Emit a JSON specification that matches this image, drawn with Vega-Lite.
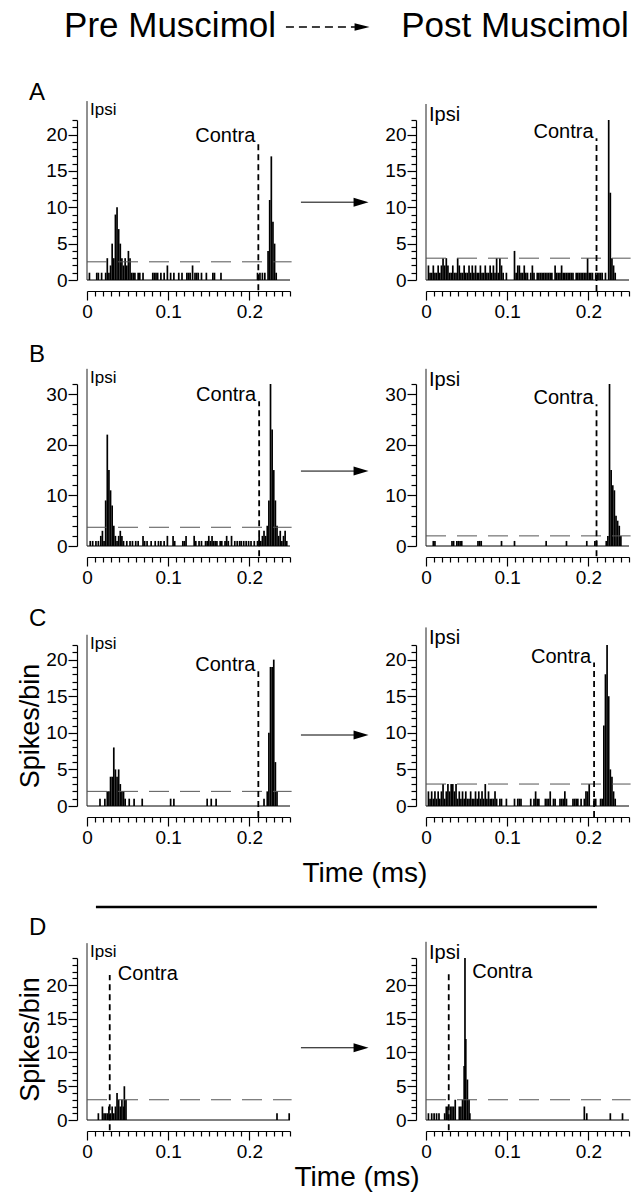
{
 "$schema": "https://vega.github.io/schema/vega-lite/v6.json",
 "background": "white",
 "padding": {"left": 16, "top": 0, "right": 0, "bottom": 0},
 "bounds": "flush",
 "columns": 2,
 "spacing": {"row": 0, "column": 136},
 "config": {
  "view": {"stroke": null},
  "axis": {"grid": false, "labelFont": "Liberation Sans", "labelFontSize": 19, "labelColor": "black", "domainColor": "black", "tickColor": "black", "domainWidth": 1.2, "tickWidth": 1.2, "labelOverlap": false, "labelFlush": false, "titleFont": "Liberation Sans", "titleFontWeight": "normal", "titleColor": "black", "titleFontSize": 27},
  "text": {"font": "Liberation Sans", "color": "black"},
  "title": {"font": "Liberation Sans", "fontSize": 24, "fontWeight": "normal", "color": "black", "anchor": "start", "frame": "group"}
 },
 "datasets": {
  "bins": [
   {"p":"A1","t":0.003,"n":1},{"p":"A1","t":0.012,"n":1},{"p":"A1","t":0.014,"n":1},{"p":"A1","t":0.018,"n":1},{"p":"A1","t":0.023,"n":1},{"p":"A1","t":0.025,"n":3},{"p":"A1","t":0.027,"n":1},{"p":"A1","t":0.029,"n":2},{"p":"A1","t":0.031,"n":5},{"p":"A1","t":0.033,"n":3},{"p":"A1","t":0.035,"n":9},{"p":"A1","t":0.037,"n":10},{"p":"A1","t":0.039,"n":7},{"p":"A1","t":0.041,"n":5},{"p":"A1","t":0.043,"n":3},{"p":"A1","t":0.045,"n":2},{"p":"A1","t":0.047,"n":3},{"p":"A1","t":0.049,"n":2},{"p":"A1","t":0.051,"n":4},{"p":"A1","t":0.053,"n":3},{"p":"A1","t":0.055,"n":1},{"p":"A1","t":0.057,"n":1},{"p":"A1","t":0.059,"n":1},{"p":"A1","t":0.063,"n":1},{"p":"A1","t":0.065,"n":1},{"p":"A1","t":0.069,"n":1},{"p":"A1","t":0.081,"n":1},{"p":"A1","t":0.083,"n":1},{"p":"A1","t":0.085,"n":1},{"p":"A1","t":0.087,"n":1},{"p":"A1","t":0.091,"n":1},{"p":"A1","t":0.095,"n":1},{"p":"A1","t":0.099,"n":2},{"p":"A1","t":0.103,"n":1},{"p":"A1","t":0.107,"n":1},{"p":"A1","t":0.113,"n":1},{"p":"A1","t":0.117,"n":1},{"p":"A1","t":0.123,"n":1},{"p":"A1","t":0.125,"n":1},{"p":"A1","t":0.127,"n":1},{"p":"A1","t":0.13,"n":2},{"p":"A1","t":0.133,"n":1},{"p":"A1","t":0.135,"n":1},{"p":"A1","t":0.137,"n":1},{"p":"A1","t":0.141,"n":1},{"p":"A1","t":0.147,"n":1},{"p":"A1","t":0.155,"n":1},{"p":"A1","t":0.157,"n":1},{"p":"A1","t":0.165,"n":1},{"p":"A1","t":0.21,"n":1},{"p":"A1","t":0.213,"n":1},{"p":"A1","t":0.216,"n":1},{"p":"A1","t":0.219,"n":1},{"p":"A1","t":0.223,"n":4},{"p":"A1","t":0.225,"n":11},{"p":"A1","t":0.227,"n":17},{"p":"A1","t":0.229,"n":8},{"p":"A1","t":0.231,"n":5},{"p":"A1","t":0.233,"n":1},
   {"p":"A2","t":0.003,"n":2},{"p":"A2","t":0.005,"n":1},{"p":"A2","t":0.007,"n":1},{"p":"A2","t":0.009,"n":2},{"p":"A2","t":0.011,"n":1},{"p":"A2","t":0.013,"n":1},{"p":"A2","t":0.015,"n":2},{"p":"A2","t":0.017,"n":1},{"p":"A2","t":0.019,"n":2},{"p":"A2","t":0.021,"n":3},{"p":"A2","t":0.023,"n":2},{"p":"A2","t":0.025,"n":3},{"p":"A2","t":0.027,"n":2},{"p":"A2","t":0.029,"n":1},{"p":"A2","t":0.031,"n":1},{"p":"A2","t":0.033,"n":2},{"p":"A2","t":0.035,"n":1},{"p":"A2","t":0.037,"n":1},{"p":"A2","t":0.039,"n":3},{"p":"A2","t":0.041,"n":2},{"p":"A2","t":0.043,"n":1},{"p":"A2","t":0.045,"n":1},{"p":"A2","t":0.047,"n":2},{"p":"A2","t":0.049,"n":1},{"p":"A2","t":0.051,"n":1},{"p":"A2","t":0.053,"n":2},{"p":"A2","t":0.055,"n":1},{"p":"A2","t":0.057,"n":2},{"p":"A2","t":0.059,"n":1},{"p":"A2","t":0.061,"n":2},{"p":"A2","t":0.063,"n":1},{"p":"A2","t":0.065,"n":1},{"p":"A2","t":0.067,"n":2},{"p":"A2","t":0.069,"n":1},{"p":"A2","t":0.071,"n":1},{"p":"A2","t":0.073,"n":2},{"p":"A2","t":0.075,"n":1},{"p":"A2","t":0.077,"n":1},{"p":"A2","t":0.079,"n":2},{"p":"A2","t":0.081,"n":1},{"p":"A2","t":0.083,"n":2},{"p":"A2","t":0.085,"n":1},{"p":"A2","t":0.087,"n":3},{"p":"A2","t":0.089,"n":1},{"p":"A2","t":0.091,"n":3},{"p":"A2","t":0.093,"n":2},{"p":"A2","t":0.095,"n":1},{"p":"A2","t":0.099,"n":1},{"p":"A2","t":0.109,"n":4},{"p":"A2","t":0.111,"n":1},{"p":"A2","t":0.113,"n":2},{"p":"A2","t":0.115,"n":2},{"p":"A2","t":0.117,"n":1},{"p":"A2","t":0.119,"n":1},{"p":"A2","t":0.121,"n":2},{"p":"A2","t":0.123,"n":1},{"p":"A2","t":0.125,"n":1},{"p":"A2","t":0.129,"n":1},{"p":"A2","t":0.131,"n":2},{"p":"A2","t":0.133,"n":1},{"p":"A2","t":0.137,"n":1},{"p":"A2","t":0.139,"n":1},{"p":"A2","t":0.141,"n":1},{"p":"A2","t":0.143,"n":1},{"p":"A2","t":0.145,"n":1},{"p":"A2","t":0.147,"n":1},{"p":"A2","t":0.149,"n":1},{"p":"A2","t":0.151,"n":1},{"p":"A2","t":0.153,"n":1},{"p":"A2","t":0.155,"n":1},{"p":"A2","t":0.159,"n":2},{"p":"A2","t":0.161,"n":1},{"p":"A2","t":0.163,"n":1},{"p":"A2","t":0.165,"n":1},{"p":"A2","t":0.167,"n":2},{"p":"A2","t":0.169,"n":1},{"p":"A2","t":0.171,"n":1},{"p":"A2","t":0.173,"n":1},{"p":"A2","t":0.175,"n":1},{"p":"A2","t":0.177,"n":1},{"p":"A2","t":0.179,"n":1},{"p":"A2","t":0.181,"n":1},{"p":"A2","t":0.185,"n":1},{"p":"A2","t":0.187,"n":1},{"p":"A2","t":0.189,"n":1},{"p":"A2","t":0.191,"n":1},{"p":"A2","t":0.193,"n":1},{"p":"A2","t":0.195,"n":1},{"p":"A2","t":0.197,"n":1},{"p":"A2","t":0.199,"n":3},{"p":"A2","t":0.201,"n":1},{"p":"A2","t":0.203,"n":1},{"p":"A2","t":0.205,"n":1},{"p":"A2","t":0.209,"n":1},{"p":"A2","t":0.211,"n":1},{"p":"A2","t":0.213,"n":1},{"p":"A2","t":0.215,"n":1},{"p":"A2","t":0.217,"n":1},{"p":"A2","t":0.221,"n":1},{"p":"A2","t":0.225,"n":22},{"p":"A2","t":0.227,"n":12},{"p":"A2","t":0.229,"n":3},{"p":"A2","t":0.231,"n":2},{"p":"A2","t":0.233,"n":1},
   {"p":"B1","t":0.004,"n":1},{"p":"B1","t":0.007,"n":1},{"p":"B1","t":0.011,"n":1},{"p":"B1","t":0.014,"n":1},{"p":"B1","t":0.017,"n":2},{"p":"B1","t":0.019,"n":3},{"p":"B1","t":0.021,"n":1},{"p":"B1","t":0.023,"n":9},{"p":"B1","t":0.025,"n":22},{"p":"B1","t":0.027,"n":15},{"p":"B1","t":0.029,"n":11},{"p":"B1","t":0.031,"n":8},{"p":"B1","t":0.033,"n":4},{"p":"B1","t":0.035,"n":2},{"p":"B1","t":0.037,"n":1},{"p":"B1","t":0.039,"n":2},{"p":"B1","t":0.041,"n":3},{"p":"B1","t":0.043,"n":2},{"p":"B1","t":0.045,"n":1},{"p":"B1","t":0.049,"n":1},{"p":"B1","t":0.053,"n":1},{"p":"B1","t":0.056,"n":1},{"p":"B1","t":0.06,"n":1},{"p":"B1","t":0.063,"n":1},{"p":"B1","t":0.069,"n":2},{"p":"B1","t":0.071,"n":1},{"p":"B1","t":0.074,"n":1},{"p":"B1","t":0.079,"n":1},{"p":"B1","t":0.084,"n":1},{"p":"B1","t":0.088,"n":1},{"p":"B1","t":0.091,"n":1},{"p":"B1","t":0.095,"n":1},{"p":"B1","t":0.099,"n":2},{"p":"B1","t":0.106,"n":2},{"p":"B1","t":0.108,"n":1},{"p":"B1","t":0.118,"n":1},{"p":"B1","t":0.12,"n":1},{"p":"B1","t":0.122,"n":2},{"p":"B1","t":0.132,"n":2},{"p":"B1","t":0.134,"n":1},{"p":"B1","t":0.138,"n":1},{"p":"B1","t":0.141,"n":1},{"p":"B1","t":0.146,"n":1},{"p":"B1","t":0.148,"n":1},{"p":"B1","t":0.15,"n":2},{"p":"B1","t":0.152,"n":1},{"p":"B1","t":0.154,"n":2},{"p":"B1","t":0.156,"n":1},{"p":"B1","t":0.158,"n":1},{"p":"B1","t":0.16,"n":1},{"p":"B1","t":0.164,"n":1},{"p":"B1","t":0.166,"n":1},{"p":"B1","t":0.17,"n":1},{"p":"B1","t":0.172,"n":2},{"p":"B1","t":0.174,"n":1},{"p":"B1","t":0.178,"n":2},{"p":"B1","t":0.182,"n":1},{"p":"B1","t":0.185,"n":1},{"p":"B1","t":0.188,"n":1},{"p":"B1","t":0.19,"n":1},{"p":"B1","t":0.193,"n":1},{"p":"B1","t":0.196,"n":1},{"p":"B1","t":0.199,"n":1},{"p":"B1","t":0.202,"n":1},{"p":"B1","t":0.206,"n":1},{"p":"B1","t":0.21,"n":1},{"p":"B1","t":0.212,"n":2},{"p":"B1","t":0.214,"n":1},{"p":"B1","t":0.216,"n":2},{"p":"B1","t":0.218,"n":3},{"p":"B1","t":0.22,"n":2},{"p":"B1","t":0.222,"n":4},{"p":"B1","t":0.224,"n":9},{"p":"B1","t":0.226,"n":32},{"p":"B1","t":0.228,"n":23},{"p":"B1","t":0.23,"n":15},{"p":"B1","t":0.232,"n":9},{"p":"B1","t":0.234,"n":4},{"p":"B1","t":0.236,"n":2},{"p":"B1","t":0.238,"n":3},{"p":"B1","t":0.24,"n":1},{"p":"B1","t":0.242,"n":2},{"p":"B1","t":0.244,"n":3},{"p":"B1","t":0.246,"n":1},
   {"p":"B2","t":0.009,"n":1},{"p":"B2","t":0.011,"n":1},{"p":"B2","t":0.032,"n":1},{"p":"B2","t":0.034,"n":1},{"p":"B2","t":0.038,"n":1},{"p":"B2","t":0.04,"n":1},{"p":"B2","t":0.042,"n":1},{"p":"B2","t":0.044,"n":1},{"p":"B2","t":0.064,"n":1},{"p":"B2","t":0.066,"n":1},{"p":"B2","t":0.068,"n":1},{"p":"B2","t":0.093,"n":1},{"p":"B2","t":0.109,"n":1},{"p":"B2","t":0.148,"n":1},{"p":"B2","t":0.173,"n":1},{"p":"B2","t":0.198,"n":1},{"p":"B2","t":0.208,"n":1},{"p":"B2","t":0.21,"n":1},{"p":"B2","t":0.222,"n":1},{"p":"B2","t":0.224,"n":2},{"p":"B2","t":0.226,"n":32},{"p":"B2","t":0.228,"n":15},{"p":"B2","t":0.23,"n":12},{"p":"B2","t":0.232,"n":11},{"p":"B2","t":0.234,"n":6},{"p":"B2","t":0.236,"n":5},{"p":"B2","t":0.238,"n":4},{"p":"B2","t":0.24,"n":2},
   {"p":"C1","t":0.016,"n":1},{"p":"C1","t":0.022,"n":1},{"p":"C1","t":0.025,"n":2},{"p":"C1","t":0.027,"n":2},{"p":"C1","t":0.029,"n":4},{"p":"C1","t":0.031,"n":4},{"p":"C1","t":0.033,"n":8},{"p":"C1","t":0.035,"n":5},{"p":"C1","t":0.037,"n":4},{"p":"C1","t":0.039,"n":5},{"p":"C1","t":0.041,"n":3},{"p":"C1","t":0.043,"n":2},{"p":"C1","t":0.045,"n":2},{"p":"C1","t":0.047,"n":1},{"p":"C1","t":0.052,"n":1},{"p":"C1","t":0.058,"n":1},{"p":"C1","t":0.068,"n":1},{"p":"C1","t":0.103,"n":1},{"p":"C1","t":0.107,"n":1},{"p":"C1","t":0.148,"n":1},{"p":"C1","t":0.153,"n":1},{"p":"C1","t":0.159,"n":1},{"p":"C1","t":0.218,"n":1},{"p":"C1","t":0.222,"n":2},{"p":"C1","t":0.224,"n":10},{"p":"C1","t":0.226,"n":19},{"p":"C1","t":0.228,"n":19},{"p":"C1","t":0.23,"n":20},{"p":"C1","t":0.232,"n":6},{"p":"C1","t":0.234,"n":2},
   {"p":"C2","t":0.003,"n":2},{"p":"C2","t":0.005,"n":1},{"p":"C2","t":0.007,"n":2},{"p":"C2","t":0.009,"n":1},{"p":"C2","t":0.011,"n":2},{"p":"C2","t":0.013,"n":1},{"p":"C2","t":0.015,"n":2},{"p":"C2","t":0.017,"n":1},{"p":"C2","t":0.019,"n":2},{"p":"C2","t":0.021,"n":3},{"p":"C2","t":0.023,"n":1},{"p":"C2","t":0.025,"n":2},{"p":"C2","t":0.027,"n":3},{"p":"C2","t":0.029,"n":2},{"p":"C2","t":0.031,"n":3},{"p":"C2","t":0.033,"n":3},{"p":"C2","t":0.035,"n":2},{"p":"C2","t":0.037,"n":3},{"p":"C2","t":0.039,"n":1},{"p":"C2","t":0.041,"n":2},{"p":"C2","t":0.043,"n":1},{"p":"C2","t":0.045,"n":2},{"p":"C2","t":0.047,"n":1},{"p":"C2","t":0.049,"n":2},{"p":"C2","t":0.051,"n":1},{"p":"C2","t":0.053,"n":1},{"p":"C2","t":0.055,"n":2},{"p":"C2","t":0.057,"n":1},{"p":"C2","t":0.059,"n":1},{"p":"C2","t":0.061,"n":2},{"p":"C2","t":0.063,"n":1},{"p":"C2","t":0.065,"n":2},{"p":"C2","t":0.067,"n":1},{"p":"C2","t":0.069,"n":2},{"p":"C2","t":0.071,"n":1},{"p":"C2","t":0.073,"n":3},{"p":"C2","t":0.075,"n":1},{"p":"C2","t":0.077,"n":2},{"p":"C2","t":0.079,"n":1},{"p":"C2","t":0.081,"n":1},{"p":"C2","t":0.083,"n":1},{"p":"C2","t":0.085,"n":2},{"p":"C2","t":0.087,"n":1},{"p":"C2","t":0.091,"n":1},{"p":"C2","t":0.093,"n":1},{"p":"C2","t":0.099,"n":1},{"p":"C2","t":0.109,"n":1},{"p":"C2","t":0.113,"n":1},{"p":"C2","t":0.115,"n":1},{"p":"C2","t":0.117,"n":1},{"p":"C2","t":0.129,"n":1},{"p":"C2","t":0.133,"n":1},{"p":"C2","t":0.135,"n":2},{"p":"C2","t":0.137,"n":1},{"p":"C2","t":0.139,"n":1},{"p":"C2","t":0.147,"n":1},{"p":"C2","t":0.149,"n":1},{"p":"C2","t":0.151,"n":1},{"p":"C2","t":0.153,"n":2},{"p":"C2","t":0.157,"n":1},{"p":"C2","t":0.159,"n":1},{"p":"C2","t":0.165,"n":1},{"p":"C2","t":0.167,"n":1},{"p":"C2","t":0.169,"n":1},{"p":"C2","t":0.171,"n":2},{"p":"C2","t":0.173,"n":1},{"p":"C2","t":0.181,"n":1},{"p":"C2","t":0.183,"n":1},{"p":"C2","t":0.185,"n":1},{"p":"C2","t":0.187,"n":1},{"p":"C2","t":0.191,"n":1},{"p":"C2","t":0.195,"n":1},{"p":"C2","t":0.197,"n":2},{"p":"C2","t":0.199,"n":2},{"p":"C2","t":0.201,"n":3},{"p":"C2","t":0.207,"n":1},{"p":"C2","t":0.209,"n":1},{"p":"C2","t":0.215,"n":1},{"p":"C2","t":0.217,"n":1},{"p":"C2","t":0.219,"n":11},{"p":"C2","t":0.221,"n":18},{"p":"C2","t":0.223,"n":22},{"p":"C2","t":0.225,"n":15},{"p":"C2","t":0.227,"n":5},{"p":"C2","t":0.229,"n":4},{"p":"C2","t":0.231,"n":2},{"p":"C2","t":0.233,"n":1},
   {"p":"D1","t":0.014,"n":1},{"p":"D1","t":0.019,"n":2},{"p":"D1","t":0.021,"n":1},{"p":"D1","t":0.023,"n":1},{"p":"D1","t":0.025,"n":1},{"p":"D1","t":0.027,"n":2},{"p":"D1","t":0.029,"n":1},{"p":"D1","t":0.031,"n":2},{"p":"D1","t":0.033,"n":1},{"p":"D1","t":0.035,"n":2},{"p":"D1","t":0.037,"n":4},{"p":"D1","t":0.039,"n":3},{"p":"D1","t":0.041,"n":2},{"p":"D1","t":0.043,"n":3},{"p":"D1","t":0.045,"n":2},{"p":"D1","t":0.046,"n":5},{"p":"D1","t":0.048,"n":3},{"p":"D1","t":0.234,"n":1},{"p":"D1","t":0.249,"n":1},
   {"p":"D2","t":0.003,"n":1},{"p":"D2","t":0.007,"n":1},{"p":"D2","t":0.01,"n":1},{"p":"D2","t":0.013,"n":1},{"p":"D2","t":0.016,"n":1},{"p":"D2","t":0.023,"n":1},{"p":"D2","t":0.025,"n":2},{"p":"D2","t":0.027,"n":2},{"p":"D2","t":0.03,"n":2},{"p":"D2","t":0.032,"n":2},{"p":"D2","t":0.034,"n":2},{"p":"D2","t":0.036,"n":3},{"p":"D2","t":0.041,"n":2},{"p":"D2","t":0.043,"n":2},{"p":"D2","t":0.045,"n":3},{"p":"D2","t":0.047,"n":8},{"p":"D2","t":0.048,"n":24},{"p":"D2","t":0.049,"n":12},{"p":"D2","t":0.051,"n":6},{"p":"D2","t":0.053,"n":3},{"p":"D2","t":0.054,"n":1},{"p":"D2","t":0.195,"n":2},{"p":"D2","t":0.198,"n":1},{"p":"D2","t":0.227,"n":1},{"p":"D2","t":0.242,"n":1}
  ],
  "annot": [
   {"p":"A1","x0":0,"xe":0.25,"xd":0.252,"y0":0,"ipsiTop":24.6,"ct":0.211,"ctop":19,"clo":-1.4,"thr":2.5},
   {"p":"A2","x0":0,"xe":0.25,"xd":0.252,"y0":0,"ipsiTop":24.2,"ct":0.21,"ctop":19.5,"clo":-1.5,"thr":3},
   {"p":"B1","x0":0,"xe":0.25,"xd":0.252,"y0":0,"ipsiTop":35,"ct":0.212,"ctop":28.6,"clo":-2,"thr":3.7},
   {"p":"B2","x0":0,"xe":0.25,"xd":0.252,"y0":0,"ipsiTop":35,"ct":0.21,"ctop":28,"clo":-2,"thr":2},
   {"p":"C1","x0":0,"xe":0.25,"xd":0.252,"y0":0,"ipsiTop":23.4,"ct":0.211,"ctop":18.4,"clo":-1.5,"thr":2},
   {"p":"C2","x0":0,"xe":0.25,"xd":0.252,"y0":0,"ipsiTop":24.4,"ct":0.207,"ctop":19.6,"clo":-1.5,"thr":3},
   {"p":"D1","x0":0,"xe":0.25,"xd":0.252,"y0":0,"ipsiTop":26.2,"ct":0.028,"ctop":21.5,"clo":-1.5,"thr":3,"ctx":0.038,"cty":21.7},
   {"p":"D2","x0":0,"xe":0.25,"xd":0.252,"y0":0,"ipsiTop":26.4,"ct":0.028,"ctop":22,"clo":-1.5,"thr":3,"ctx":0.057,"cty":21.9}
  ],
  "arrows": [
   {"p":"A2","a1":-0.154,"a2":-0.085,"ah":-0.08,"ay":10.7},
   {"p":"B2","a1":-0.154,"a2":-0.085,"ah":-0.08,"ay":14.8},
   {"p":"C2","a1":-0.154,"a2":-0.085,"ah":-0.08,"ay":9.7},
   {"p":"D2","a1":-0.154,"a2":-0.085,"ah":-0.08,"ay":10.7}
  ],
  "hl": [{"label":"Pre Muscimol","fx":0.409,"fy":0.783}],
  "hr": [{"label":"Post Muscimol","fx":0.438,"fy":0.783}],
  "hdash": [{"xa":0.98,"xb":1.32,"hx":1.355,"fy":0.775}],
  "sep": [{"xa":0.044,"xb":2.512,"fy":0.336}],
  "midtext": [{"label":"Time (ms)","fx":1.369,"fy":0.553}],
  "foot": [{"label":"Time (ms)","fx":1.33,"fy":0.275}],
  "none": []
 },
 "concat": [
  {"width": 203, "height": 120, "layer": [
    {"data": {"name": "hl"}, "mark": {"type": "text", "fontSize": 35, "baseline": "middle", "align": "center", "clip": false},
     "encoding": {"x": {"field": "fx", "type": "quantitative", "scale": {"domain": [0, 1], "nice": false}, "axis": null}, "y": {"field": "fy", "type": "quantitative", "scale": {"domain": [0, 1], "nice": false}, "axis": null}, "text": {"field": "label", "type": "nominal"}}},
    {"data": {"name": "hdash"}, "mark": {"type": "rule", "strokeDash": [8, 5], "strokeWidth": 1.5, "color": "black", "clip": false},
     "encoding": {"x": {"field": "xa", "type": "quantitative"}, "x2": {"field": "xb"}, "y": {"field": "fy", "type": "quantitative"}}},
    {"data": {"name": "hdash"}, "mark": {"type": "point", "shape": "M-1,-0.5L1,0L-1,0.5Z", "filled": true, "size": 225, "color": "black", "opacity": 1, "clip": false},
     "encoding": {"x": {"field": "hx", "type": "quantitative"}, "y": {"field": "fy", "type": "quantitative"}}}
  ]},
  {"width": 203, "height": 120, "data": {"name": "hr"}, "mark": {"type": "text", "fontSize": 35, "baseline": "middle", "align": "center", "clip": false},
   "encoding": {"x": {"field": "fx", "type": "quantitative", "scale": {"domain": [0, 1], "nice": false}, "axis": null}, "y": {"field": "fy", "type": "quantitative", "scale": {"domain": [0, 1], "nice": false}, "axis": null}, "text": {"field": "label", "type": "nominal"}}},

  {"width": 203, "height": 160, "title": {"text": "A", "dx": -58, "offset": -4},
   "layer": [
    {"data": {"name": "bins"}, "transform": [{"filter": "datum.p === 'A1'"}], "mark": {"type": "bar", "width": 1.7, "color": "black"},
     "encoding": {"x": {"field": "t", "type": "quantitative", "scale": {"domain": [0, 0.25], "nice": false, "zero": false, "padding": 0}, "axis": {"title": null, "offset": 11, "tickCount": 100, "labelOverlap": false, "labelFlush": false, "values": [0,0.01,0.02,0.03,0.04,0.05,0.06,0.07,0.08,0.09,0.1,0.11,0.12,0.13,0.14,0.15,0.16,0.17,0.18,0.19,0.2,0.21,0.22,0.23,0.24,0.25], "labelExpr": "abs(datum.value*10 - round(datum.value*10)) < 0.001 ? format(datum.value, '~g') : ''", "tickSize": {"condition": {"test": "abs(datum.value*10 - round(datum.value*10)) < 0.001", "value": 9}, "value": 5}, "labelPadding": 2}},
                  "y": {"field": "n", "type": "quantitative", "scale": {"domain": [0, 22], "nice": false}, "axis": {"title": null, "offset": 10, "tickCount": 100, "labelOverlap": false, "values": [0,1,2,3,4,5,6,7,8,9,10,11,12,13,14,15,16,17,18,19,20,21,22], "labelExpr": "datum.value % 5 === 0 ? format(datum.value, 'd') : ''", "tickSize": {"condition": {"test": "datum.value % 5 === 0", "value": 9}, "value": 5}, "labelPadding": 1}}}},
    {"data": {"name": "annot"}, "transform": [{"filter": "datum.p === 'A1'"}], "layer": [
     {"mark": {"type": "rule", "color": "black", "strokeWidth": 1}, "encoding": {"x": {"field": "x0", "type": "quantitative"}, "x2": {"field": "xe"}, "y": {"field": "y0", "type": "quantitative"}}},
     {"mark": {"type": "rule", "color": "#222", "strokeWidth": 1}, "encoding": {"x": {"field": "x0", "type": "quantitative"}, "y": {"field": "y0", "type": "quantitative"}, "y2": {"field": "ipsiTop"}}},
     {"mark": {"type": "rule", "color": "#555", "strokeWidth": 1, "strokeDash": [20, 11]}, "encoding": {"x": {"field": "x0", "type": "quantitative"}, "x2": {"field": "xd"}, "y": {"field": "thr", "type": "quantitative"}}},
     {"mark": {"type": "rule", "color": "black", "strokeWidth": 1.8, "strokeDash": [6, 4], "clip": false}, "encoding": {"x": {"field": "ct", "type": "quantitative"}, "y": {"field": "clo", "type": "quantitative"}, "y2": {"field": "ctop"}}},
     {"mark": {"type": "text", "text": "Ipsi", "align": "left", "baseline": "top", "dx": 3, "dy": 1, "fontSize": 17, "clip": false}, "encoding": {"x": {"field": "x0", "type": "quantitative"}, "y": {"field": "ipsiTop", "type": "quantitative"}}},
     {"mark": {"type": "text", "text": "Contra", "align": "right", "baseline": "alphabetic", "dx": -3, "fontSize": 20, "clip": false}, "encoding": {"x": {"field": "ct", "type": "quantitative"}, "y": {"field": "ctop", "type": "quantitative"}}}
    ]}
   ]},
  {"width": 203, "height": 160,
   "layer": [
    {"data": {"name": "bins"}, "transform": [{"filter": "datum.p === 'A2'"}], "mark": {"type": "bar", "width": 1.7, "color": "black"},
     "encoding": {"x": {"field": "t", "type": "quantitative", "scale": {"domain": [0, 0.25], "nice": false, "zero": false, "padding": 0}, "axis": {"title": null, "offset": 11, "tickCount": 100, "labelOverlap": false, "labelFlush": false, "values": [0,0.01,0.02,0.03,0.04,0.05,0.06,0.07,0.08,0.09,0.1,0.11,0.12,0.13,0.14,0.15,0.16,0.17,0.18,0.19,0.2,0.21,0.22,0.23,0.24,0.25], "labelExpr": "abs(datum.value*10 - round(datum.value*10)) < 0.001 ? format(datum.value, '~g') : ''", "tickSize": {"condition": {"test": "abs(datum.value*10 - round(datum.value*10)) < 0.001", "value": 9}, "value": 5}, "labelPadding": 2}},
                  "y": {"field": "n", "type": "quantitative", "scale": {"domain": [0, 22], "nice": false}, "axis": {"title": null, "offset": 10, "tickCount": 100, "labelOverlap": false, "values": [0,1,2,3,4,5,6,7,8,9,10,11,12,13,14,15,16,17,18,19,20,21,22], "labelExpr": "datum.value % 5 === 0 ? format(datum.value, 'd') : ''", "tickSize": {"condition": {"test": "datum.value % 5 === 0", "value": 9}, "value": 5}, "labelPadding": 1}}}},
    {"data": {"name": "annot"}, "transform": [{"filter": "datum.p === 'A2'"}], "layer": [
     {"mark": {"type": "rule", "color": "black", "strokeWidth": 1}, "encoding": {"x": {"field": "x0", "type": "quantitative"}, "x2": {"field": "xe"}, "y": {"field": "y0", "type": "quantitative"}}},
     {"mark": {"type": "rule", "color": "#222", "strokeWidth": 1}, "encoding": {"x": {"field": "x0", "type": "quantitative"}, "y": {"field": "y0", "type": "quantitative"}, "y2": {"field": "ipsiTop"}}},
     {"mark": {"type": "rule", "color": "#555", "strokeWidth": 1, "strokeDash": [20, 11]}, "encoding": {"x": {"field": "x0", "type": "quantitative"}, "x2": {"field": "xd"}, "y": {"field": "thr", "type": "quantitative"}}},
     {"mark": {"type": "rule", "color": "black", "strokeWidth": 1.8, "strokeDash": [6, 4], "clip": false}, "encoding": {"x": {"field": "ct", "type": "quantitative"}, "y": {"field": "clo", "type": "quantitative"}, "y2": {"field": "ctop"}}},
     {"mark": {"type": "text", "text": "Ipsi", "align": "left", "baseline": "top", "dx": 3, "dy": 1, "fontSize": 20, "clip": false}, "encoding": {"x": {"field": "x0", "type": "quantitative"}, "y": {"field": "ipsiTop", "type": "quantitative"}}},
     {"mark": {"type": "text", "text": "Contra", "align": "right", "baseline": "alphabetic", "dx": -3, "fontSize": 20, "clip": false}, "encoding": {"x": {"field": "ct", "type": "quantitative"}, "y": {"field": "ctop", "type": "quantitative"}}}
    ]},
    {"data": {"name": "arrows"}, "transform": [{"filter": "datum.p === 'A2'"}], "layer": [
     {"mark": {"type": "rule", "color": "black", "strokeWidth": 1, "clip": false}, "encoding": {"x": {"field": "a1", "type": "quantitative"}, "x2": {"field": "a2"}, "y": {"field": "ay", "type": "quantitative"}}},
     {"mark": {"type": "point", "shape": "M-1,-0.6L1,0L-1,0.6Z", "filled": true, "size": 225, "color": "black", "opacity": 1, "clip": false}, "encoding": {"x": {"field": "ah", "type": "quantitative"}, "y": {"field": "ay", "type": "quantitative"}}}
    ]}
   ]},

  {"width": 203, "height": 104, "data": {"name": "none"}, "mark": {"type": "point"}},
  {"width": 203, "height": 104, "data": {"name": "none"}, "mark": {"type": "point"}},

  {"width": 203, "height": 162, "title": {"text": "B", "dx": -58, "offset": 1},
   "layer": [
    {"data": {"name": "bins"}, "transform": [{"filter": "datum.p === 'B1'"}], "mark": {"type": "bar", "width": 1.7, "color": "black"},
     "encoding": {"x": {"field": "t", "type": "quantitative", "scale": {"domain": [0, 0.25], "nice": false, "zero": false, "padding": 0}, "axis": {"title": null, "offset": 11, "tickCount": 100, "labelOverlap": false, "labelFlush": false, "values": [0,0.01,0.02,0.03,0.04,0.05,0.06,0.07,0.08,0.09,0.1,0.11,0.12,0.13,0.14,0.15,0.16,0.17,0.18,0.19,0.2,0.21,0.22,0.23,0.24,0.25], "labelExpr": "abs(datum.value*10 - round(datum.value*10)) < 0.001 ? format(datum.value, '~g') : ''", "tickSize": {"condition": {"test": "abs(datum.value*10 - round(datum.value*10)) < 0.001", "value": 9}, "value": 5}, "labelPadding": 2}},
                  "y": {"field": "n", "type": "quantitative", "scale": {"domain": [0, 32], "nice": false}, "axis": {"title": null, "offset": 10, "tickCount": 100, "labelOverlap": false, "values": [0,2,4,6,8,10,12,14,16,18,20,22,24,26,28,30,32], "labelExpr": "datum.value % 10 === 0 ? format(datum.value, 'd') : ''", "tickSize": {"condition": {"test": "datum.value % 10 === 0", "value": 9}, "value": 5}, "labelPadding": 1}}}},
    {"data": {"name": "annot"}, "transform": [{"filter": "datum.p === 'B1'"}], "layer": [
     {"mark": {"type": "rule", "color": "black", "strokeWidth": 1}, "encoding": {"x": {"field": "x0", "type": "quantitative"}, "x2": {"field": "xe"}, "y": {"field": "y0", "type": "quantitative"}}},
     {"mark": {"type": "rule", "color": "#222", "strokeWidth": 1}, "encoding": {"x": {"field": "x0", "type": "quantitative"}, "y": {"field": "y0", "type": "quantitative"}, "y2": {"field": "ipsiTop"}}},
     {"mark": {"type": "rule", "color": "#555", "strokeWidth": 1, "strokeDash": [20, 11]}, "encoding": {"x": {"field": "x0", "type": "quantitative"}, "x2": {"field": "xd"}, "y": {"field": "thr", "type": "quantitative"}}},
     {"mark": {"type": "rule", "color": "black", "strokeWidth": 1.8, "strokeDash": [6, 4], "clip": false}, "encoding": {"x": {"field": "ct", "type": "quantitative"}, "y": {"field": "clo", "type": "quantitative"}, "y2": {"field": "ctop"}}},
     {"mark": {"type": "text", "text": "Ipsi", "align": "left", "baseline": "top", "dx": 3, "dy": 1, "fontSize": 17, "clip": false}, "encoding": {"x": {"field": "x0", "type": "quantitative"}, "y": {"field": "ipsiTop", "type": "quantitative"}}},
     {"mark": {"type": "text", "text": "Contra", "align": "right", "baseline": "alphabetic", "dx": -3, "fontSize": 20, "clip": false}, "encoding": {"x": {"field": "ct", "type": "quantitative"}, "y": {"field": "ctop", "type": "quantitative"}}}
    ]}
   ]},
  {"width": 203, "height": 162,
   "layer": [
    {"data": {"name": "bins"}, "transform": [{"filter": "datum.p === 'B2'"}], "mark": {"type": "bar", "width": 1.7, "color": "black"},
     "encoding": {"x": {"field": "t", "type": "quantitative", "scale": {"domain": [0, 0.25], "nice": false, "zero": false, "padding": 0}, "axis": {"title": null, "offset": 11, "tickCount": 100, "labelOverlap": false, "labelFlush": false, "values": [0,0.01,0.02,0.03,0.04,0.05,0.06,0.07,0.08,0.09,0.1,0.11,0.12,0.13,0.14,0.15,0.16,0.17,0.18,0.19,0.2,0.21,0.22,0.23,0.24,0.25], "labelExpr": "abs(datum.value*10 - round(datum.value*10)) < 0.001 ? format(datum.value, '~g') : ''", "tickSize": {"condition": {"test": "abs(datum.value*10 - round(datum.value*10)) < 0.001", "value": 9}, "value": 5}, "labelPadding": 2}},
                  "y": {"field": "n", "type": "quantitative", "scale": {"domain": [0, 32], "nice": false}, "axis": {"title": null, "offset": 10, "tickCount": 100, "labelOverlap": false, "values": [0,2,4,6,8,10,12,14,16,18,20,22,24,26,28,30,32], "labelExpr": "datum.value % 10 === 0 ? format(datum.value, 'd') : ''", "tickSize": {"condition": {"test": "datum.value % 10 === 0", "value": 9}, "value": 5}, "labelPadding": 1}}}},
    {"data": {"name": "annot"}, "transform": [{"filter": "datum.p === 'B2'"}], "layer": [
     {"mark": {"type": "rule", "color": "black", "strokeWidth": 1}, "encoding": {"x": {"field": "x0", "type": "quantitative"}, "x2": {"field": "xe"}, "y": {"field": "y0", "type": "quantitative"}}},
     {"mark": {"type": "rule", "color": "#222", "strokeWidth": 1}, "encoding": {"x": {"field": "x0", "type": "quantitative"}, "y": {"field": "y0", "type": "quantitative"}, "y2": {"field": "ipsiTop"}}},
     {"mark": {"type": "rule", "color": "#555", "strokeWidth": 1, "strokeDash": [20, 11]}, "encoding": {"x": {"field": "x0", "type": "quantitative"}, "x2": {"field": "xd"}, "y": {"field": "thr", "type": "quantitative"}}},
     {"mark": {"type": "rule", "color": "black", "strokeWidth": 1.8, "strokeDash": [6, 4], "clip": false}, "encoding": {"x": {"field": "ct", "type": "quantitative"}, "y": {"field": "clo", "type": "quantitative"}, "y2": {"field": "ctop"}}},
     {"mark": {"type": "text", "text": "Ipsi", "align": "left", "baseline": "top", "dx": 3, "dy": 1, "fontSize": 20, "clip": false}, "encoding": {"x": {"field": "x0", "type": "quantitative"}, "y": {"field": "ipsiTop", "type": "quantitative"}}},
     {"mark": {"type": "text", "text": "Contra", "align": "right", "baseline": "alphabetic", "dx": -3, "fontSize": 20, "clip": false}, "encoding": {"x": {"field": "ct", "type": "quantitative"}, "y": {"field": "ctop", "type": "quantitative"}}}
    ]},
    {"data": {"name": "arrows"}, "transform": [{"filter": "datum.p === 'B2'"}], "layer": [
     {"mark": {"type": "rule", "color": "black", "strokeWidth": 1, "clip": false}, "encoding": {"x": {"field": "a1", "type": "quantitative"}, "x2": {"field": "a2"}, "y": {"field": "ay", "type": "quantitative"}}},
     {"mark": {"type": "point", "shape": "M-1,-0.6L1,0L-1,0.6Z", "filled": true, "size": 225, "color": "black", "opacity": 1, "clip": false}, "encoding": {"x": {"field": "ah", "type": "quantitative"}, "y": {"field": "ay", "type": "quantitative"}}}
    ]}
   ]},

  {"width": 203, "height": 99, "data": {"name": "none"}, "mark": {"type": "point"}},
  {"width": 203, "height": 99, "data": {"name": "none"}, "mark": {"type": "point"}},

  {"width": 203, "height": 161, "title": {"text": "C", "dx": -58, "offset": 3},
   "layer": [
    {"data": {"name": "bins"}, "transform": [{"filter": "datum.p === 'C1'"}], "mark": {"type": "bar", "width": 1.7, "color": "black"},
     "encoding": {"x": {"field": "t", "type": "quantitative", "scale": {"domain": [0, 0.25], "nice": false, "zero": false, "padding": 0}, "axis": {"title": null, "offset": 11, "tickCount": 100, "labelOverlap": false, "labelFlush": false, "values": [0,0.01,0.02,0.03,0.04,0.05,0.06,0.07,0.08,0.09,0.1,0.11,0.12,0.13,0.14,0.15,0.16,0.17,0.18,0.19,0.2,0.21,0.22,0.23,0.24,0.25], "labelExpr": "abs(datum.value*10 - round(datum.value*10)) < 0.001 ? format(datum.value, '~g') : ''", "tickSize": {"condition": {"test": "abs(datum.value*10 - round(datum.value*10)) < 0.001", "value": 9}, "value": 5}, "labelPadding": 2}},
                  "y": {"field": "n", "type": "quantitative", "scale": {"domain": [0, 22], "nice": false}, "axis": {"title": "Spikes/bin", "titlePadding": 1, "offset": 10, "tickCount": 100, "labelOverlap": false, "values": [0,1,2,3,4,5,6,7,8,9,10,11,12,13,14,15,16,17,18,19,20,21,22], "labelExpr": "datum.value % 5 === 0 ? format(datum.value, 'd') : ''", "tickSize": {"condition": {"test": "datum.value % 5 === 0", "value": 9}, "value": 5}, "labelPadding": 1}}}},
    {"data": {"name": "annot"}, "transform": [{"filter": "datum.p === 'C1'"}], "layer": [
     {"mark": {"type": "rule", "color": "black", "strokeWidth": 1}, "encoding": {"x": {"field": "x0", "type": "quantitative"}, "x2": {"field": "xe"}, "y": {"field": "y0", "type": "quantitative"}}},
     {"mark": {"type": "rule", "color": "#222", "strokeWidth": 1}, "encoding": {"x": {"field": "x0", "type": "quantitative"}, "y": {"field": "y0", "type": "quantitative"}, "y2": {"field": "ipsiTop"}}},
     {"mark": {"type": "rule", "color": "#555", "strokeWidth": 1, "strokeDash": [20, 11]}, "encoding": {"x": {"field": "x0", "type": "quantitative"}, "x2": {"field": "xd"}, "y": {"field": "thr", "type": "quantitative"}}},
     {"mark": {"type": "rule", "color": "black", "strokeWidth": 1.8, "strokeDash": [6, 4], "clip": false}, "encoding": {"x": {"field": "ct", "type": "quantitative"}, "y": {"field": "clo", "type": "quantitative"}, "y2": {"field": "ctop"}}},
     {"mark": {"type": "text", "text": "Ipsi", "align": "left", "baseline": "top", "dx": 3, "dy": 1, "fontSize": 17, "clip": false}, "encoding": {"x": {"field": "x0", "type": "quantitative"}, "y": {"field": "ipsiTop", "type": "quantitative"}}},
     {"mark": {"type": "text", "text": "Contra", "align": "right", "baseline": "alphabetic", "dx": -3, "fontSize": 20, "clip": false}, "encoding": {"x": {"field": "ct", "type": "quantitative"}, "y": {"field": "ctop", "type": "quantitative"}}}
    ]}
   ]},
  {"width": 203, "height": 161,
   "layer": [
    {"data": {"name": "bins"}, "transform": [{"filter": "datum.p === 'C2'"}], "mark": {"type": "bar", "width": 1.7, "color": "black"},
     "encoding": {"x": {"field": "t", "type": "quantitative", "scale": {"domain": [0, 0.25], "nice": false, "zero": false, "padding": 0}, "axis": {"title": null, "offset": 11, "tickCount": 100, "labelOverlap": false, "labelFlush": false, "values": [0,0.01,0.02,0.03,0.04,0.05,0.06,0.07,0.08,0.09,0.1,0.11,0.12,0.13,0.14,0.15,0.16,0.17,0.18,0.19,0.2,0.21,0.22,0.23,0.24,0.25], "labelExpr": "abs(datum.value*10 - round(datum.value*10)) < 0.001 ? format(datum.value, '~g') : ''", "tickSize": {"condition": {"test": "abs(datum.value*10 - round(datum.value*10)) < 0.001", "value": 9}, "value": 5}, "labelPadding": 2}},
                  "y": {"field": "n", "type": "quantitative", "scale": {"domain": [0, 22], "nice": false}, "axis": {"title": null, "offset": 10, "tickCount": 100, "labelOverlap": false, "values": [0,1,2,3,4,5,6,7,8,9,10,11,12,13,14,15,16,17,18,19,20,21,22], "labelExpr": "datum.value % 5 === 0 ? format(datum.value, 'd') : ''", "tickSize": {"condition": {"test": "datum.value % 5 === 0", "value": 9}, "value": 5}, "labelPadding": 1}}}},
    {"data": {"name": "annot"}, "transform": [{"filter": "datum.p === 'C2'"}], "layer": [
     {"mark": {"type": "rule", "color": "black", "strokeWidth": 1}, "encoding": {"x": {"field": "x0", "type": "quantitative"}, "x2": {"field": "xe"}, "y": {"field": "y0", "type": "quantitative"}}},
     {"mark": {"type": "rule", "color": "#222", "strokeWidth": 1}, "encoding": {"x": {"field": "x0", "type": "quantitative"}, "y": {"field": "y0", "type": "quantitative"}, "y2": {"field": "ipsiTop"}}},
     {"mark": {"type": "rule", "color": "#555", "strokeWidth": 1, "strokeDash": [20, 11]}, "encoding": {"x": {"field": "x0", "type": "quantitative"}, "x2": {"field": "xd"}, "y": {"field": "thr", "type": "quantitative"}}},
     {"mark": {"type": "rule", "color": "black", "strokeWidth": 1.8, "strokeDash": [6, 4], "clip": false}, "encoding": {"x": {"field": "ct", "type": "quantitative"}, "y": {"field": "clo", "type": "quantitative"}, "y2": {"field": "ctop"}}},
     {"mark": {"type": "text", "text": "Ipsi", "align": "left", "baseline": "top", "dx": 3, "dy": 1, "fontSize": 20, "clip": false}, "encoding": {"x": {"field": "x0", "type": "quantitative"}, "y": {"field": "ipsiTop", "type": "quantitative"}}},
     {"mark": {"type": "text", "text": "Contra", "align": "right", "baseline": "alphabetic", "dx": -3, "fontSize": 20, "clip": false}, "encoding": {"x": {"field": "ct", "type": "quantitative"}, "y": {"field": "ctop", "type": "quantitative"}}}
    ]},
    {"data": {"name": "arrows"}, "transform": [{"filter": "datum.p === 'C2'"}], "layer": [
     {"mark": {"type": "rule", "color": "black", "strokeWidth": 1, "clip": false}, "encoding": {"x": {"field": "a1", "type": "quantitative"}, "x2": {"field": "a2"}, "y": {"field": "ay", "type": "quantitative"}}},
     {"mark": {"type": "point", "shape": "M-1,-0.6L1,0L-1,0.6Z", "filled": true, "size": 225, "color": "black", "opacity": 1, "clip": false}, "encoding": {"x": {"field": "ah", "type": "quantitative"}, "y": {"field": "ay", "type": "quantitative"}}}
    ]}
   ]},

  {"width": 203, "height": 152, "layer": [
    {"data": {"name": "sep"}, "mark": {"type": "rule", "strokeWidth": 2.6, "color": "black", "clip": false},
     "encoding": {"x": {"field": "xa", "type": "quantitative", "scale": {"domain": [0, 1], "nice": false}, "axis": null}, "x2": {"field": "xb"}, "y": {"field": "fy", "type": "quantitative", "scale": {"domain": [0, 1], "nice": false}, "axis": null}}},
    {"data": {"name": "midtext"}, "mark": {"type": "text", "fontSize": 28, "baseline": "middle", "align": "center", "clip": false},
     "encoding": {"x": {"field": "fx", "type": "quantitative"}, "y": {"field": "fy", "type": "quantitative"}, "text": {"field": "label", "type": "nominal"}}}
  ]},
  {"width": 203, "height": 152, "data": {"name": "none"}, "mark": {"type": "point"}},

  {"width": 203, "height": 162, "title": {"text": "D", "dx": -58, "offset": 3},
   "layer": [
    {"data": {"name": "bins"}, "transform": [{"filter": "datum.p === 'D1'"}], "mark": {"type": "bar", "width": 1.7, "color": "black"},
     "encoding": {"x": {"field": "t", "type": "quantitative", "scale": {"domain": [0, 0.25], "nice": false, "zero": false, "padding": 0}, "axis": {"title": null, "offset": 11, "tickCount": 100, "labelOverlap": false, "labelFlush": false, "values": [0,0.01,0.02,0.03,0.04,0.05,0.06,0.07,0.08,0.09,0.1,0.11,0.12,0.13,0.14,0.15,0.16,0.17,0.18,0.19,0.2,0.21,0.22,0.23,0.24,0.25], "labelExpr": "abs(datum.value*10 - round(datum.value*10)) < 0.001 ? format(datum.value, '~g') : ''", "tickSize": {"condition": {"test": "abs(datum.value*10 - round(datum.value*10)) < 0.001", "value": 9}, "value": 5}, "labelPadding": 2}},
                  "y": {"field": "n", "type": "quantitative", "scale": {"domain": [0, 24], "nice": false}, "axis": {"title": "Spikes/bin", "titlePadding": 1, "offset": 10, "tickCount": 100, "labelOverlap": false, "values": [0,1,2,3,4,5,6,7,8,9,10,11,12,13,14,15,16,17,18,19,20,21,22,23,24], "labelExpr": "datum.value % 5 === 0 ? format(datum.value, 'd') : ''", "tickSize": {"condition": {"test": "datum.value % 5 === 0", "value": 9}, "value": 5}, "labelPadding": 1}}}},
    {"data": {"name": "annot"}, "transform": [{"filter": "datum.p === 'D1'"}], "layer": [
     {"mark": {"type": "rule", "color": "black", "strokeWidth": 1}, "encoding": {"x": {"field": "x0", "type": "quantitative"}, "x2": {"field": "xe"}, "y": {"field": "y0", "type": "quantitative"}}},
     {"mark": {"type": "rule", "color": "#222", "strokeWidth": 1}, "encoding": {"x": {"field": "x0", "type": "quantitative"}, "y": {"field": "y0", "type": "quantitative"}, "y2": {"field": "ipsiTop"}}},
     {"mark": {"type": "rule", "color": "#555", "strokeWidth": 1, "strokeDash": [20, 11]}, "encoding": {"x": {"field": "x0", "type": "quantitative"}, "x2": {"field": "xd"}, "y": {"field": "thr", "type": "quantitative"}}},
     {"mark": {"type": "rule", "color": "black", "strokeWidth": 1.8, "strokeDash": [6, 4], "clip": false}, "encoding": {"x": {"field": "ct", "type": "quantitative"}, "y": {"field": "clo", "type": "quantitative"}, "y2": {"field": "ctop"}}},
     {"mark": {"type": "text", "text": "Ipsi", "align": "left", "baseline": "top", "dx": 3, "dy": 1, "fontSize": 17, "clip": false}, "encoding": {"x": {"field": "x0", "type": "quantitative"}, "y": {"field": "ipsiTop", "type": "quantitative"}}},
     {"mark": {"type": "text", "text": "Contra", "align": "left", "baseline": "middle", "fontSize": 20, "clip": false}, "encoding": {"x": {"field": "ctx", "type": "quantitative"}, "y": {"field": "cty", "type": "quantitative"}}}
    ]}
   ]},
  {"width": 203, "height": 162,
   "layer": [
    {"data": {"name": "bins"}, "transform": [{"filter": "datum.p === 'D2'"}], "mark": {"type": "bar", "width": 1.7, "color": "black"},
     "encoding": {"x": {"field": "t", "type": "quantitative", "scale": {"domain": [0, 0.25], "nice": false, "zero": false, "padding": 0}, "axis": {"title": null, "offset": 11, "tickCount": 100, "labelOverlap": false, "labelFlush": false, "values": [0,0.01,0.02,0.03,0.04,0.05,0.06,0.07,0.08,0.09,0.1,0.11,0.12,0.13,0.14,0.15,0.16,0.17,0.18,0.19,0.2,0.21,0.22,0.23,0.24,0.25], "labelExpr": "abs(datum.value*10 - round(datum.value*10)) < 0.001 ? format(datum.value, '~g') : ''", "tickSize": {"condition": {"test": "abs(datum.value*10 - round(datum.value*10)) < 0.001", "value": 9}, "value": 5}, "labelPadding": 2}},
                  "y": {"field": "n", "type": "quantitative", "scale": {"domain": [0, 24], "nice": false}, "axis": {"title": null, "offset": 10, "tickCount": 100, "labelOverlap": false, "values": [0,1,2,3,4,5,6,7,8,9,10,11,12,13,14,15,16,17,18,19,20,21,22,23,24], "labelExpr": "datum.value % 5 === 0 ? format(datum.value, 'd') : ''", "tickSize": {"condition": {"test": "datum.value % 5 === 0", "value": 9}, "value": 5}, "labelPadding": 1}}}},
    {"data": {"name": "annot"}, "transform": [{"filter": "datum.p === 'D2'"}], "layer": [
     {"mark": {"type": "rule", "color": "black", "strokeWidth": 1}, "encoding": {"x": {"field": "x0", "type": "quantitative"}, "x2": {"field": "xe"}, "y": {"field": "y0", "type": "quantitative"}}},
     {"mark": {"type": "rule", "color": "#222", "strokeWidth": 1}, "encoding": {"x": {"field": "x0", "type": "quantitative"}, "y": {"field": "y0", "type": "quantitative"}, "y2": {"field": "ipsiTop"}}},
     {"mark": {"type": "rule", "color": "#555", "strokeWidth": 1, "strokeDash": [20, 11]}, "encoding": {"x": {"field": "x0", "type": "quantitative"}, "x2": {"field": "xd"}, "y": {"field": "thr", "type": "quantitative"}}},
     {"mark": {"type": "rule", "color": "black", "strokeWidth": 1.8, "strokeDash": [6, 4], "clip": false}, "encoding": {"x": {"field": "ct", "type": "quantitative"}, "y": {"field": "clo", "type": "quantitative"}, "y2": {"field": "ctop"}}},
     {"mark": {"type": "text", "text": "Ipsi", "align": "left", "baseline": "top", "dx": 3, "dy": 1, "fontSize": 20, "clip": false}, "encoding": {"x": {"field": "x0", "type": "quantitative"}, "y": {"field": "ipsiTop", "type": "quantitative"}}},
     {"mark": {"type": "text", "text": "Contra", "align": "left", "baseline": "middle", "fontSize": 20, "clip": false}, "encoding": {"x": {"field": "ctx", "type": "quantitative"}, "y": {"field": "cty", "type": "quantitative"}}}
    ]},
    {"data": {"name": "arrows"}, "transform": [{"filter": "datum.p === 'D2'"}], "layer": [
     {"mark": {"type": "rule", "color": "black", "strokeWidth": 1, "clip": false}, "encoding": {"x": {"field": "a1", "type": "quantitative"}, "x2": {"field": "a2"}, "y": {"field": "ay", "type": "quantitative"}}},
     {"mark": {"type": "point", "shape": "M-1,-0.6L1,0L-1,0.6Z", "filled": true, "size": 225, "color": "black", "opacity": 1, "clip": false}, "encoding": {"x": {"field": "ah", "type": "quantitative"}, "y": {"field": "ay", "type": "quantitative"}}}
    ]}
   ]},

  {"width": 203, "height": 80, "data": {"name": "foot"}, "mark": {"type": "text", "fontSize": 28, "baseline": "middle", "align": "center", "clip": false},
   "encoding": {"x": {"field": "fx", "type": "quantitative", "scale": {"domain": [0, 1], "nice": false}, "axis": null}, "y": {"field": "fy", "type": "quantitative", "scale": {"domain": [0, 1], "nice": false}, "axis": null}, "text": {"field": "label", "type": "nominal"}}},
  {"width": 203, "height": 80, "data": {"name": "none"}, "mark": {"type": "point"}}
 ]
}
